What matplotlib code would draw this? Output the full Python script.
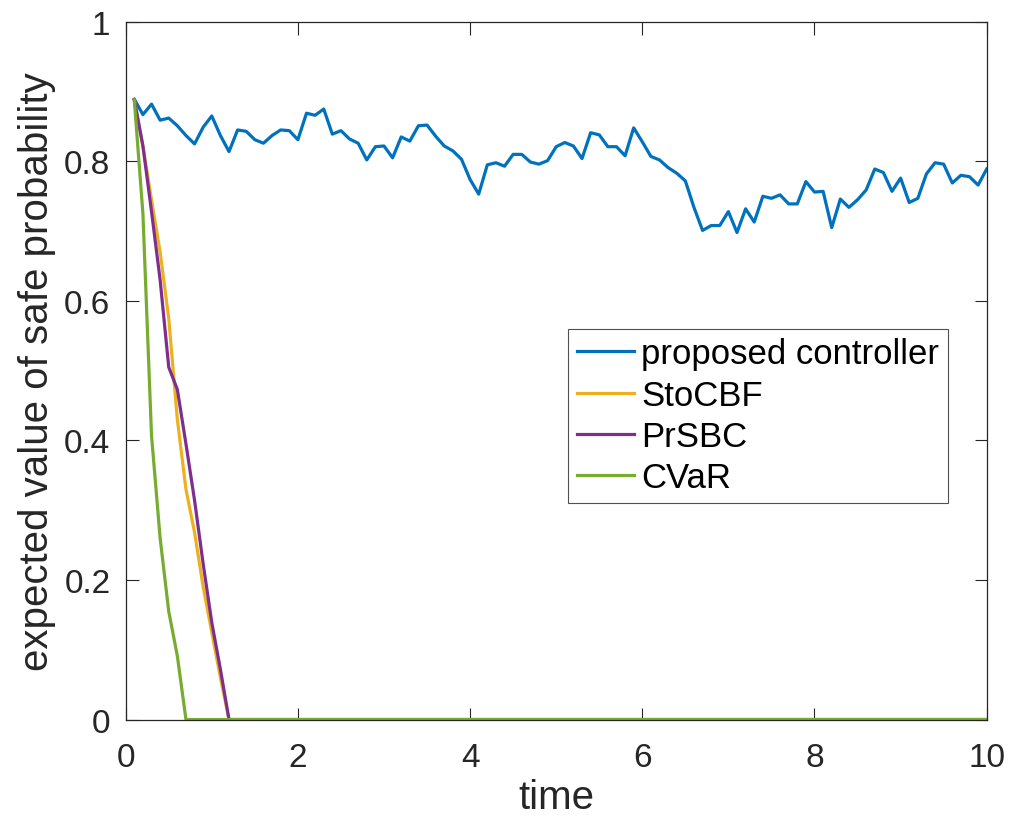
import numpy as np
import matplotlib.pyplot as plt
from matplotlib.ticker import FormatStrFormatter

plt.rcParams['font.family'] = ['Liberation Sans', 'DejaVu Sans']

# proposed controller, sampled every 0.1 from t=0.1 to t=10
t = np.round(np.arange(1, 101) * 0.1, 1)
proposed = [0.889, 0.867, 0.882, 0.859, 0.862, 0.851, 0.837, 0.825, 0.849, 0.865,
            0.837, 0.814, 0.845, 0.843, 0.831, 0.826, 0.837, 0.845, 0.844, 0.831,
            0.869, 0.866, 0.875, 0.839, 0.844, 0.832, 0.826, 0.802, 0.821, 0.822,
            0.805, 0.835, 0.829, 0.851, 0.852, 0.836, 0.822, 0.815, 0.803, 0.774,
            0.753, 0.795, 0.798, 0.793, 0.810, 0.810, 0.799, 0.796, 0.801, 0.821,
            0.827, 0.822, 0.804, 0.841, 0.838, 0.821, 0.821, 0.808, 0.848, 0.828,
            0.807, 0.802, 0.791, 0.783, 0.772, 0.734, 0.701, 0.708, 0.708, 0.728,
            0.698, 0.732, 0.713, 0.750, 0.747, 0.752, 0.739, 0.739, 0.771, 0.756,
            0.757, 0.705, 0.746, 0.734, 0.745, 0.759, 0.789, 0.784, 0.757, 0.776,
            0.741, 0.747, 0.782, 0.798, 0.796, 0.769, 0.780, 0.778, 0.766, 0.789]

# baselines: they hit zero early and stay at zero until t=10
sto_t = [0.1, 0.2, 0.3, 0.4, 0.5, 0.6, 0.7, 0.8, 0.9, 1.0, 1.1, 1.2, 10]
sto_v = [0.888, 0.822, 0.745, 0.670, 0.575, 0.430, 0.330, 0.268, 0.190, 0.125, 0.060, 0.0, 0.0]

pr_t = [0.1, 0.2, 0.3, 0.4, 0.5, 0.6, 0.7, 0.8, 0.9, 1.0, 1.1, 1.2, 10]
pr_v = [0.888, 0.822, 0.728, 0.630, 0.505, 0.473, 0.395, 0.314, 0.223, 0.139, 0.072, 0.0, 0.0]

cvar_t = [0.1, 0.2, 0.3, 0.4, 0.5, 0.6, 0.7, 10]
cvar_v = [0.888, 0.725, 0.407, 0.260, 0.155, 0.091, 0.0, 0.0]

fig = plt.figure(figsize=(10.12, 8.2), dpi=100)
ax = fig.add_axes([0.1242, 0.1213, 0.8508, 0.8509])

ax.plot(t, proposed, color='#0072BD', lw=2.3, label='proposed controller')
ax.plot(sto_t, sto_v, color='#EDB120', lw=2.3, label='StoCBF')
ax.plot(pr_t, pr_v, color='#7E2F8E', lw=2.3, label='PrSBC')
ax.plot(cvar_t, cvar_v, color='#77AC30', lw=2.3, label='CVaR')

ax.set_xlim(0, 10)
ax.set_ylim(0, 1)
ax.set_xticks([0, 2, 4, 6, 8, 10])
ax.set_yticks([0, 0.2, 0.4, 0.6, 0.8, 1])
ax.yaxis.set_major_formatter(FormatStrFormatter('%g'))
ax.tick_params(direction='in', length=9, width=0.8, labelsize=24,
               top=True, right=True, colors='#262626')
ax.tick_params(axis='x', pad=16)
ax.tick_params(axis='y', pad=11)
for s in ax.spines.values():
    s.set_color('#262626')
    s.set_linewidth(0.9)

ax.set_xlabel('time', fontsize=29, color='#262626', labelpad=4)
ax.set_ylabel('expected value of safe probability', fontsize=29, color='#262626', labelpad=6)

leg = ax.legend(loc='upper left', bbox_to_anchor=(0.514, 0.56), fontsize=25,
                frameon=True, fancybox=False, edgecolor='#262626',
                handlelength=1.65, handletextpad=0.2, labelspacing=0.24,
                borderpad=0.25, borderaxespad=0)
leg.get_frame().set_linewidth(0.8)

fig.savefig('out.png', dpi=100)
